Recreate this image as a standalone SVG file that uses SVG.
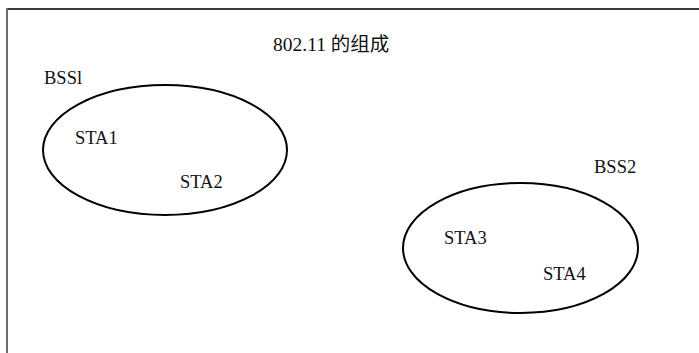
<svg xmlns="http://www.w3.org/2000/svg" width="699" height="353" viewBox="0 0 699 353">
  <style>
    .frame { fill: none; stroke-width: 2; }
    .bss { fill: none; stroke: #000; stroke-width: 2; }
    .lbl { font-family: "Liberation Serif", "Noto Sans CJK SC", serif; font-size: 18.5px; fill: #111; }
  </style>
  <rect width="699" height="353" fill="#fff"/>
  <!-- open frame: top and left edges only -->
  <g id="frame">
    <line class="frame" x1="6" y1="9" x2="699" y2="9" stroke="#3a3a3a"/>
    <line class="frame" x1="7" y1="8" x2="7" y2="353" stroke="#6e6e6e"/>
  </g>
  <text id="title" class="lbl" x="273" y="51" style="font-size:19.5px">802.11 的组成</text>
  <g id="bss1">
    <ellipse class="bss" cx="165" cy="150" rx="122" ry="65"/>
    <text class="lbl" x="44" y="84">BSSl</text>
  </g>
  <g id="sta1"><text class="lbl" x="75" y="144">STA1</text></g>
  <g id="sta2"><text class="lbl" x="180" y="188">STA2</text></g>
  <g id="bss2">
    <ellipse class="bss" cx="520.5" cy="248" rx="117.5" ry="65"/>
    <text class="lbl" x="594" y="173">BSS2</text>
  </g>
  <g id="sta3"><text class="lbl" x="444" y="244">STA3</text></g>
  <g id="sta4"><text class="lbl" x="543" y="280">STA4</text></g>
  <g id="connectors"/>
</svg>
